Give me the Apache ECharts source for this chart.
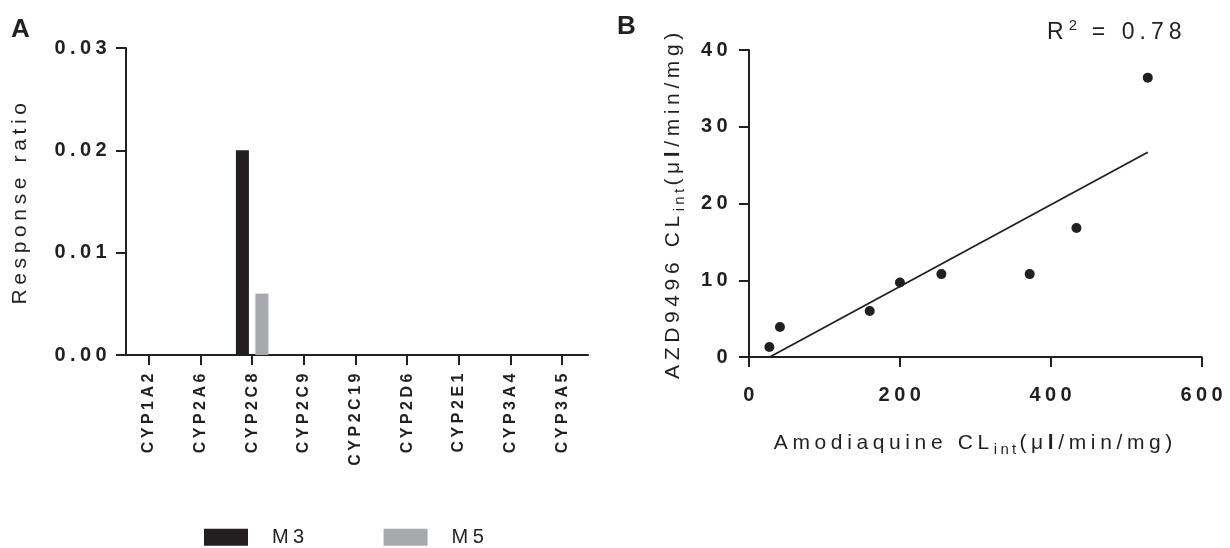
<!DOCTYPE html>
<html>
<head>
<meta charset="utf-8">
<title>CYP phenotyping and clearance correlation</title>
<script src="https://cdn.jsdelivr.net/npm/echarts@6/dist/echarts.min.js"></script>
<style>
  html, body { margin: 0; padding: 0; background: #fff; }
  #chart { width: 1230px; height: 548px; }
</style>
</head>
<body>
<div id="chart"></div>
<script>
// Panel A: metabolite formation by recombinant CYP isoform
const cypIsoforms = ['CYP1A2', 'CYP2A6', 'CYP2C8', 'CYP2C9', 'CYP2C19', 'CYP2D6', 'CYP2E1', 'CYP3A4', 'CYP3A5'];
const m3Ratio = [0, 0, 0.020, 0, 0, 0, 0, 0, 0];
const m5Ratio = [0, 0, 0.006, 0, 0, 0, 0, 0, 0];
const ratioTicks = [0, 0.01, 0.02, 0.03];

// Panel B: intrinsic clearance in individual liver microsome donors
const amodiaquineClint = [27, 41, 160, 200, 255, 372, 434, 528.5];
const azd9496Clint = [1.3, 3.9, 6.0, 9.7, 10.8, 10.8, 16.8, 36.4];
const clintXTicks = [0, 200, 400, 600];
const clintYTicks = [0, 10, 20, 30, 40];
const rSquared = 0.78;

// Wide tracking of the original typesetting: spacing scales with font size.
const TRACKING = 0.22;
(function () {
  const proto = CanvasRenderingContext2D.prototype;
  const fill = proto.fillText, stroke = proto.strokeText, measure = proto.measureText;
  function track(ctx) {
    const m = /(\d+(?:\.\d+)?)px/.exec(ctx.font);
    if (m && 'letterSpacing' in ctx) ctx.letterSpacing = (parseFloat(m[1]) * TRACKING).toFixed(2) + 'px';
  }
  proto.fillText = function () { track(this); return fill.apply(this, arguments); };
  proto.strokeText = function () { track(this); return stroke.apply(this, arguments); };
  proto.measureText = function () { track(this); return measure.apply(this, arguments); };
})();

// Least-squares fit for the correlation line
function linearFit(xs, ys) {
  const n = xs.length;
  const mx = xs.reduce((a, b) => a + b, 0) / n;
  const my = ys.reduce((a, b) => a + b, 0) / n;
  let sxy = 0, sxx = 0;
  for (let i = 0; i < n; i++) { sxy += (xs[i] - mx) * (ys[i] - my); sxx += (xs[i] - mx) ** 2; }
  const slope = sxy / sxx;
  return { slope, intercept: my - slope * mx };
}
const fit = linearFit(amodiaquineClint, azd9496Clint);
const fitStart = Math.max(0, -fit.intercept / fit.slope);
const fitEnd = Math.max.apply(null, amodiaquineClint);
const fitLine = [[fitStart, fit.slope * fitStart + fit.intercept], [fitEnd, fit.slope * fitEnd + fit.intercept]];

const FONT = '"Liberation Sans", Arial, Helvetica, sans-serif';
const INK = '#231f20';
const axisLine = { show: true, lineStyle: { color: INK, width: 2 } };
const axisTick = { show: true, inside: false, length: 10, lineStyle: { color: INK, width: 2 } };
const tickFont = { color: INK, fontFamily: FONT, fontWeight: 'bold', fontSize: 20 };
const titleFont = { color: INK, fontFamily: FONT, fontSize: 21 };

const titleRich = {
  sub: { fontFamily: FONT, fontSize: 15, color: INK, padding: [14, 0, 0, 0] },
  b: { fontFamily: FONT, fontSize: 21, fontWeight: 'bold', color: INK }
};

const chart = echarts.init(document.getElementById('chart'), null, { renderer: 'canvas' });

chart.setOption({
  backgroundColor: '#ffffff',
  animation: false,
  textStyle: { fontFamily: FONT },
  grid: [
    { left: 123, top: 48, width: 465, height: 307 },
    { left: 749, top: 50, width: 456, height: 307 }
  ],
  legend: {
    left: 204,
    top: 525,
    padding: 0,
    itemWidth: 44,
    itemHeight: 17,
    itemGap: 75,
    icon: 'rect',
    selectedMode: false,
    data: ['M3', 'M5'],
    textStyle: { color: INK, fontFamily: FONT, fontSize: 20, padding: [0, 0, 0, 19] }
  },
  xAxis: [
    {
      gridIndex: 0,
      type: 'category',
      data: cypIsoforms,
      boundaryGap: true,
      axisLine: axisLine,
      axisTick: Object.assign({ alignWithLabel: true }, axisTick),
      axisLabel: Object.assign({ rotate: 90, margin: 15, interval: 0 }, tickFont, { fontSize: 16 }),
      splitLine: { show: false }
    },
    {
      gridIndex: 1,
      type: 'value',
      min: clintXTicks[0],
      max: clintXTicks[clintXTicks.length - 1],
      interval: clintXTicks[1] - clintXTicks[0],
      axisLine: axisLine,
      axisTick: axisTick,
      axisLabel: Object.assign({ margin: 26, padding: [0, 0, 0, 4] }, tickFont),
      splitLine: { show: false },
      name: 'Amodiaquine CL{sub|int}(μ{b|l}/min/mg)',
      nameLocation: 'middle',
      nameGap: 70,
      nameTextStyle: Object.assign({ rich: titleRich }, titleFont)
    }
  ],
  yAxis: [
    {
      gridIndex: 0,
      type: 'value',
      offset: -3,
      min: ratioTicks[0],
      max: ratioTicks[ratioTicks.length - 1],
      interval: ratioTicks[1] - ratioTicks[0],
      axisLine: axisLine,
      axisTick: axisTick,
      axisLabel: Object.assign({ margin: 15, formatter: v => v.toFixed(2) }, tickFont),
      splitLine: { show: false },
      name: 'Response ratio',
      nameLocation: 'middle',
      nameGap: 93,
      nameTextStyle: titleFont
    },
    {
      gridIndex: 1,
      type: 'value',
      min: clintYTicks[0],
      max: clintYTicks[clintYTicks.length - 1],
      interval: clintYTicks[1] - clintYTicks[0],
      axisLine: axisLine,
      axisTick: axisTick,
      axisLabel: Object.assign({ margin: 17 }, tickFont),
      splitLine: { show: false },
      name: 'AZD9496 CL{sub|int}(μ{b|l}/min/mg)',
      nameLocation: 'middle',
      nameGap: 60,
      nameTextStyle: Object.assign({ rich: titleRich }, titleFont)
    }
  ],
  series: [
    {
      name: 'M3', type: 'bar', xAxisIndex: 0, yAxisIndex: 0,
      data: m3Ratio, barWidth: 13, barGap: '50%',
      itemStyle: { color: INK }
    },
    {
      name: 'M5', type: 'bar', xAxisIndex: 0, yAxisIndex: 0,
      data: m5Ratio, barWidth: 13, barGap: '50%',
      itemStyle: { color: '#a7a9ac' }
    },
    {
      name: 'Donors', type: 'scatter', xAxisIndex: 1, yAxisIndex: 1,
      data: amodiaquineClint.map((x, i) => [x, azd9496Clint[i]]),
      symbol: 'circle', symbolSize: 10,
      itemStyle: { color: INK, opacity: 1 }
    },
    {
      name: 'Linear fit', type: 'line', xAxisIndex: 1, yAxisIndex: 1,
      data: fitLine, showSymbol: false, symbol: 'none',
      lineStyle: { color: INK, width: 1.8 }
    }
  ],
  graphic: [
    { type: 'text', left: 11, top: 14, style: { text: 'A', font: 'bold 26px ' + FONT, fill: INK } },
    { type: 'text', left: 617, top: 11, style: { text: 'B', font: 'bold 26px ' + FONT, fill: INK } },
    {
      type: 'text', left: 1047, top: 17,
      style: {
        text: 'R{sup|2} = ' + rSquared.toFixed(2),
        font: '23px ' + FONT, fill: INK,
        rich: { sup: { fontSize: 15, fontFamily: FONT, fill: INK, padding: [0, 0, 13, 0] } }
      }
    }
  ]
});
</script>
</body>
</html>
